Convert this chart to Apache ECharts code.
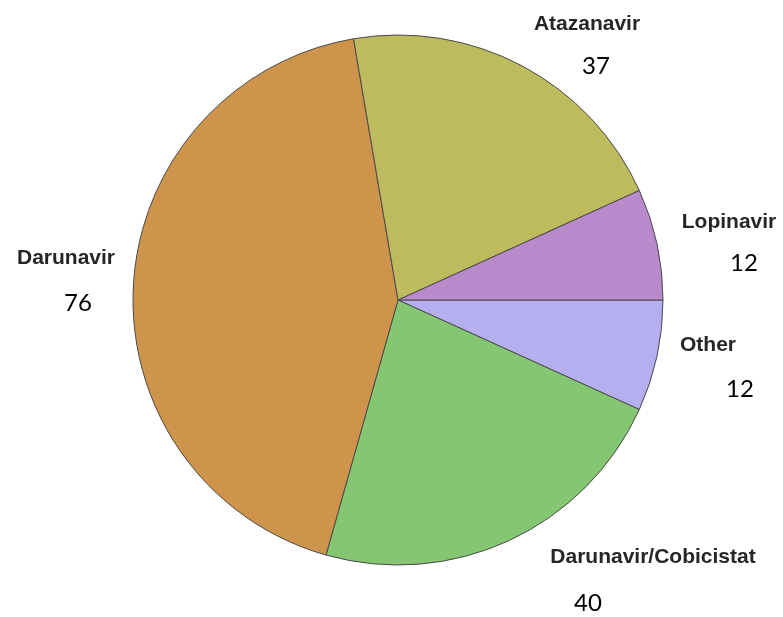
<!DOCTYPE html>
<html>
<head>
<meta charset="utf-8">
<script src="https://cdn.jsdelivr.net/npm/echarts@6/dist/echarts.min.js"></script>
<style>
html,body{margin:0;padding:0;background:#fff;}
#chart{width:783px;height:617px;}
</style>
</head>
<body>
<div id="chart"></div>
<script>
// Data (clockwise from 3 o'clock)
var categories = ['Other', 'Darunavir/Cobicistat', 'Darunavir', 'Atazanavir', 'Lopinavir'];
var values = [12, 40, 76, 37, 12];

// Styling / layout (not data)
var colors = ['#b5aff0', '#85c673', '#cf944b', '#bdbb5d', '#b889cb'];
var namePos = [[708, 345], [653, 557], [66, 258], [587, 24], [729, 222]];
var valuePos = [[740, 389], [588, 603], [78, 303], [596, 66], [744, 263]];

var chart = echarts.init(document.getElementById('chart'), null, {renderer: 'canvas'});

var pieData = categories.map(function (c, i) {
  return {name: c, value: values[i], itemStyle: {color: colors[i]}};
});

chart.setOption({
  backgroundColor: '#ffffff',
  animation: false,
  series: [
    {
      type: 'pie',
      center: [398, 300],
      radius: [0, 265],
      startAngle: 0,
      clockwise: true,
      data: pieData,
      itemStyle: {borderColor: '#4a4a4a', borderWidth: 1},
      emphasis: {disabled: true},
      label: {
        show: true,
        position: 'outside',
        formatter: '{b}',
        overflow: 'none',
        fontFamily: 'Liberation Sans, Arial, sans-serif',
        fontWeight: 'bold',
        fontSize: 21,
        color: '#262626'
      },
      labelLine: {show: false},
      labelLayout: function (p) {
        var pos = namePos[p.dataIndex];
        return {x: pos[0], y: pos[1], align: 'center', verticalAlign: 'middle'};
      }
    },
    {
      type: 'pie',
      center: [398, 300],
      radius: [0, 265],
      startAngle: 0,
      clockwise: true,
      silent: true,
      data: categories.map(function (c, i) { return {name: c, value: values[i]}; }),
      itemStyle: {color: 'rgba(0,0,0,0)', borderWidth: 0},
      label: {
        show: true,
        position: 'outside',
        formatter: '{c}',
        overflow: 'none',
        fontFamily: 'Lato, Carlito, sans-serif',
        fontSize: 24,
        color: '#000000'
      },
      labelLine: {show: false},
      labelLayout: function (p) {
        var pos = valuePos[p.dataIndex];
        return {x: pos[0], y: pos[1], align: 'center', verticalAlign: 'middle'};
      }
    }
  ]
});
</script>
</body>
</html>
